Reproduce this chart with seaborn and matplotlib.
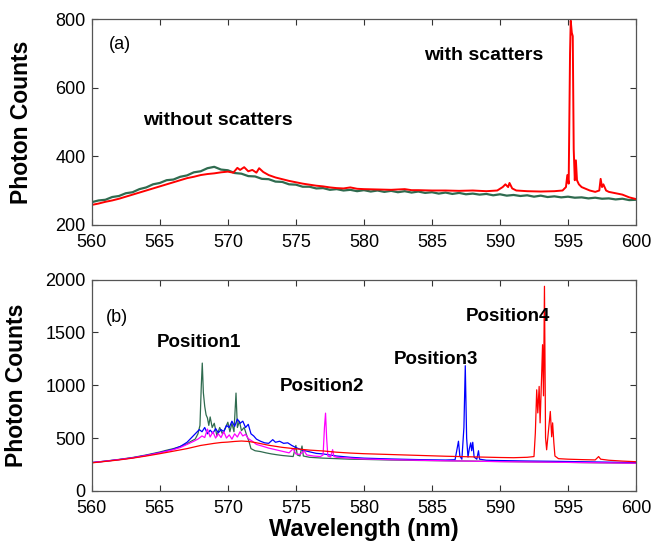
import matplotlib
matplotlib.use("Agg")
import matplotlib.pyplot as plt
import seaborn as sns

# ---- panel (a): spectra without / with scatters ----
ga_wl = [560, 560.5, 561, 561.5, 562, 562.5, 563, 563.5, 564, 564.5, 565, 565.5,
         566, 566.5, 567, 567.5, 568, 568.5, 569, 569.5, 570, 570.5, 571, 571.5,
         572, 572.5, 573, 573.5, 574, 574.5, 575, 575.5, 576, 576.5, 577, 577.5,
         578, 578.5, 579, 579.5, 580, 580.5, 581, 581.5, 582, 582.5, 583, 583.5,
         584, 584.5, 585, 585.5, 586, 586.5, 587, 587.5, 588, 588.5, 589, 589.5,
         590, 590.5, 591, 591.5, 592, 592.5, 593, 593.5, 594, 594.5, 595, 595.5,
         596, 596.5, 597, 597.5, 598, 598.5, 599, 599.5, 600]
ga_counts = [266, 271, 273, 281, 284, 292, 295, 304, 309, 318, 322, 330,
             332, 340, 344, 353, 356, 365, 369, 361, 359, 351, 349, 342,
             341, 334, 333, 326, 325, 318, 317, 311, 311, 306, 307, 302,
             304, 300, 302, 298, 301, 297, 300, 296, 299, 295, 298, 294,
             297, 293, 295, 291, 294, 290, 293, 289, 291, 288, 290, 286,
             289, 285, 287, 284, 286, 282, 285, 281, 283, 280, 282, 279,
             280, 277, 279, 276, 277, 274, 276, 272, 273]

ra_wl = [560, 560.5, 561, 561.5, 562, 562.5, 563, 563.5, 564, 564.5, 565, 565.5,
         566, 566.5, 567, 567.5, 568, 568.5, 569, 569.5, 570, 570.4, 570.7, 570.9,
         571.2, 571.5, 571.8, 572.1, 572.3, 572.6, 573, 573.5, 574, 574.5, 575,
         575.5, 576, 576.5, 577, 577.5, 578, 578.5, 579, 579.5, 580, 581, 582, 583,
         583.5, 584, 585, 586, 587, 588, 589, 589.8, 590.2, 590.4, 590.6, 590.7,
         590.9, 591.2, 592, 593, 594, 594.6, 594.85, 594.95, 595.05, 595.15, 595.2,
         595.28, 595.35, 595.42, 595.5, 595.58, 595.66, 595.8, 596, 596.3, 596.6,
         597, 597.3, 597.4, 597.5, 597.6, 597.8, 598, 598.5, 599, 599.5, 600]
ra_counts = [258, 262, 267, 271, 276, 282, 288, 294, 300, 306, 312, 318,
             324, 330, 336, 340, 345, 348, 350, 353, 355, 352, 366, 360,
             368, 356, 360, 352, 365, 354, 345, 338, 333, 328, 324,
             320, 317, 314, 312, 309, 307, 306, 309, 305, 304, 303, 302, 304,
             301, 301, 300, 300, 299, 300, 298, 300, 310, 318, 310, 322,
             306, 300, 298, 297, 298, 300, 310, 345, 320, 700, 795,
             760, 750, 420, 330, 388, 330, 318, 310, 305, 300,
             296, 300, 334, 310, 318, 300, 296, 292, 288, 280, 275]

# ---- panel (b): four positions ----
gb_wl = [560, 561, 562, 563, 564, 565, 565.5, 566, 566.5, 567, 567.3, 567.6, 567.8,
         567.95, 568.05, 568.12, 568.2, 568.3, 568.4, 568.5, 568.6, 568.7, 568.85,
         569, 569.2, 569.4, 569.6, 569.8, 570, 570.15, 570.3, 570.45, 570.6, 570.7,
         570.85, 571, 571.2, 571.4, 571.55, 571.7, 572, 572.4, 572.8, 573.2, 573.6,
         574, 574.4, 574.8, 575, 575.1, 575.3, 575.45, 575.55, 576, 577, 578, 579,
         580, 582, 584, 586, 588, 590, 592, 594, 596, 598, 600]
gb_counts = [268, 282, 298, 316, 340, 368, 385, 400, 420, 445, 470, 490, 540,
             620, 1000, 1210, 930, 800, 720, 690, 620, 700, 600,
             640, 520, 600, 540, 590, 650, 560, 640, 560, 926, 600,
             660, 570, 600, 520, 470, 400, 380, 372, 360, 350, 342,
             335, 330, 325, 430, 340, 330, 425, 330, 318, 310, 305, 300,
             298, 292, 288, 285, 282, 278, 275, 272, 268, 265, 262]

bb_wl = [560, 561, 562, 563, 564, 565, 566, 566.5, 567, 567.3, 567.6, 567.9, 568.1,
         568.3, 568.5, 568.7, 568.9, 569.1, 569.3, 569.5, 569.7, 569.9, 570.1, 570.3,
         570.5, 570.7, 570.9, 571.1, 571.3, 571.5, 571.7, 571.9, 572.1, 572.4, 572.7,
         573, 573.3, 573.5, 573.8, 574.1, 574.4, 574.7, 575, 575.5, 576, 576.5, 577,
         577.5, 578, 579, 580, 582, 584, 586, 586.7, 586.85, 586.95, 587.05, 587.2,
         587.35, 587.45, 587.55, 587.65, 587.75, 587.85, 587.92, 588.0, 588.1, 588.3,
         588.42, 588.5, 589, 590, 592, 594, 596, 598, 600]
bb_counts = [268, 281, 296, 313, 336, 362, 395, 420, 460, 500, 540, 580, 560,
             600, 540, 575, 545, 590, 550, 580, 560, 620, 600, 660,
             610, 680, 640, 660, 600, 630, 540, 520, 490, 470, 455,
             450, 485, 460, 470, 450, 455, 430, 410, 385, 370, 355, 350,
             340, 330, 318, 310, 302, 296, 292, 295, 400, 470, 330, 300,
             600, 1185, 500, 320, 400, 455, 380, 460, 320, 300,
             380, 300, 290, 287, 283, 280, 276, 272, 268]

mb_wl = [560, 561, 562, 563, 564, 565, 566, 566.5, 567, 567.5, 567.8, 568.1, 568.3,
         568.5, 568.7, 568.9, 569.1, 569.3, 569.5, 569.7, 569.9, 570.1, 570.3, 570.5,
         570.7, 570.9, 571.1, 571.3, 571.5, 571.8, 572.1, 572.5, 573, 573.5, 574,
         574.5, 574.8, 575, 575.3, 575.6, 575.8, 576.3, 576.8, 577.0, 577.1, 577.18,
         577.26, 577.35, 577.55, 577.7, 577.8, 578, 579, 580, 582, 584, 586, 588,
         590, 592, 594, 596, 598, 600]
mb_counts = [268, 281, 296, 313, 335, 360, 390, 410, 440, 470, 490, 520, 505,
             585, 510, 560, 500, 540, 505, 560, 500, 530, 490, 540,
             510, 560, 520, 535, 495, 470, 440, 425, 405, 390, 375,
             360, 400, 350, 345, 380, 340, 330, 325, 340, 600, 736,
             500, 330, 320, 390, 325, 318, 310, 302, 295, 290, 285, 281,
             277, 274, 271, 268, 265, 262]

rb_wl = [560, 561, 562, 563, 564, 565, 566, 567, 567.5, 568, 568.5, 569, 569.5,
         570, 570.5, 571, 571.5, 572, 572.5, 573, 573.5, 574, 574.5, 575, 575.5,
         576, 576.5, 577, 577.5, 578, 578.5, 579, 580, 581, 582, 583, 584, 585,
         586, 587, 588, 589, 590, 591, 592, 592.5, 592.6, 592.7, 592.78, 592.88,
         592.95, 593.06, 593.13, 593.2, 593.27, 593.35, 593.43, 593.55, 593.7,
         593.8, 593.87, 593.96, 594.04, 594.3, 595, 596, 597, 597.15, 597.25,
         597.4, 598, 599, 600]
rb_counts = [265, 279, 293, 310, 330, 352, 376, 400, 415, 430, 440, 450, 458,
             462, 468, 472, 468, 458, 445, 432, 422, 412, 405, 398, 392,
             386, 382, 378, 372, 366, 362, 358, 352, 348, 344, 340, 336, 332,
             328, 325, 322, 319, 316, 314, 318, 325, 548, 957, 738, 989,
             644, 1083, 1384, 900, 1937, 503, 389, 550, 752,
             512, 644, 456, 330, 305, 300, 296, 293, 312, 325,
             300, 290, 282, 276]

x_ticks = [560, 565, 570, 575, 580, 585, 590, 595, 600]

GREEN = "#2f6b4f"

sns.set_style("ticks")
plt.rcParams["font.family"] = ["Liberation Sans", "DejaVu Sans"]
plt.rcParams["xtick.direction"] = "in"
plt.rcParams["ytick.direction"] = "in"
plt.rcParams["xtick.top"] = True
plt.rcParams["ytick.right"] = True
plt.rcParams["text.color"] = "black"
plt.rcParams["axes.labelcolor"] = "black"
plt.rcParams["xtick.labelcolor"] = "black"
plt.rcParams["ytick.labelcolor"] = "black"

fig = plt.figure(figsize=(6.51, 5.43), dpi=100)
ax1 = fig.add_axes([0.141, 0.586, 0.836, 0.379])
ax2 = fig.add_axes([0.141, 0.096, 0.836, 0.389])

# panel (a)
sns.lineplot(x=ga_wl, y=ga_counts, ax=ax1, color=GREEN, linewidth=1.6, errorbar=None)
sns.lineplot(x=ra_wl, y=ra_counts, ax=ax1, color="#ff0000", linewidth=1.4, errorbar=None)
ax1.set_xlim(560, 600)
ax1.set_ylim(200, 800)
ax1.set_yticks([200, 400, 600, 800])
ax1.text(561.25, 727, "(a)", fontsize=13, va="center")
ax1.text(563.8, 503, "without scatters", fontsize=14, fontweight="bold", va="center")
ax1.text(584.4, 695, "with scatters", fontsize=14, fontweight="bold", va="center")

# panel (b)
sns.lineplot(x=gb_wl, y=gb_counts, ax=ax2, color=GREEN, linewidth=0.9, errorbar=None)
sns.lineplot(x=bb_wl, y=bb_counts, ax=ax2, color="#0000ff", linewidth=0.9, errorbar=None)
sns.lineplot(x=mb_wl, y=mb_counts, ax=ax2, color="#ff00ff", linewidth=0.9, errorbar=None)
sns.lineplot(x=rb_wl, y=rb_counts, ax=ax2, color="#ff0000", linewidth=0.9, errorbar=None)
ax2.set_xlim(560, 600)
ax2.set_ylim(0, 2000)
ax2.set_yticks([0, 500, 1000, 1500, 2000])
ax2.text(561.0, 1640, "(b)", fontsize=13, va="center")
ax2.text(564.8, 1403, "Position1", fontsize=13.5, fontweight="bold", va="center")
ax2.text(573.8, 986, "Position2", fontsize=13.5, fontweight="bold", va="center")
ax2.text(582.2, 1242, "Position3", fontsize=13.5, fontweight="bold", va="center")
ax2.text(587.5, 1649, "Position4", fontsize=13.5, fontweight="bold", va="center")
ax2.set_xlabel("Wavelength (nm)", fontsize=17, fontweight="bold", labelpad=1)

for ax in (ax1, ax2):
    ax.set_xticks(x_ticks)
    ax.tick_params(labelsize=13, length=4, width=0.8, color="#333333")
    ax.tick_params(axis="x", pad=6.5)
    ax.tick_params(axis="y", pad=4.5)
    for s in ax.spines.values():
        s.set_color("#555555")
        s.set_linewidth(0.9)
    ax.set_ylabel("Photon Counts", fontsize=16.5, fontweight="bold")

ax1.yaxis.set_label_coords(-0.108, 0.5)
ax2.yaxis.set_label_coords(-0.118, 0.5)

fig.savefig("out.png", dpi=100)
